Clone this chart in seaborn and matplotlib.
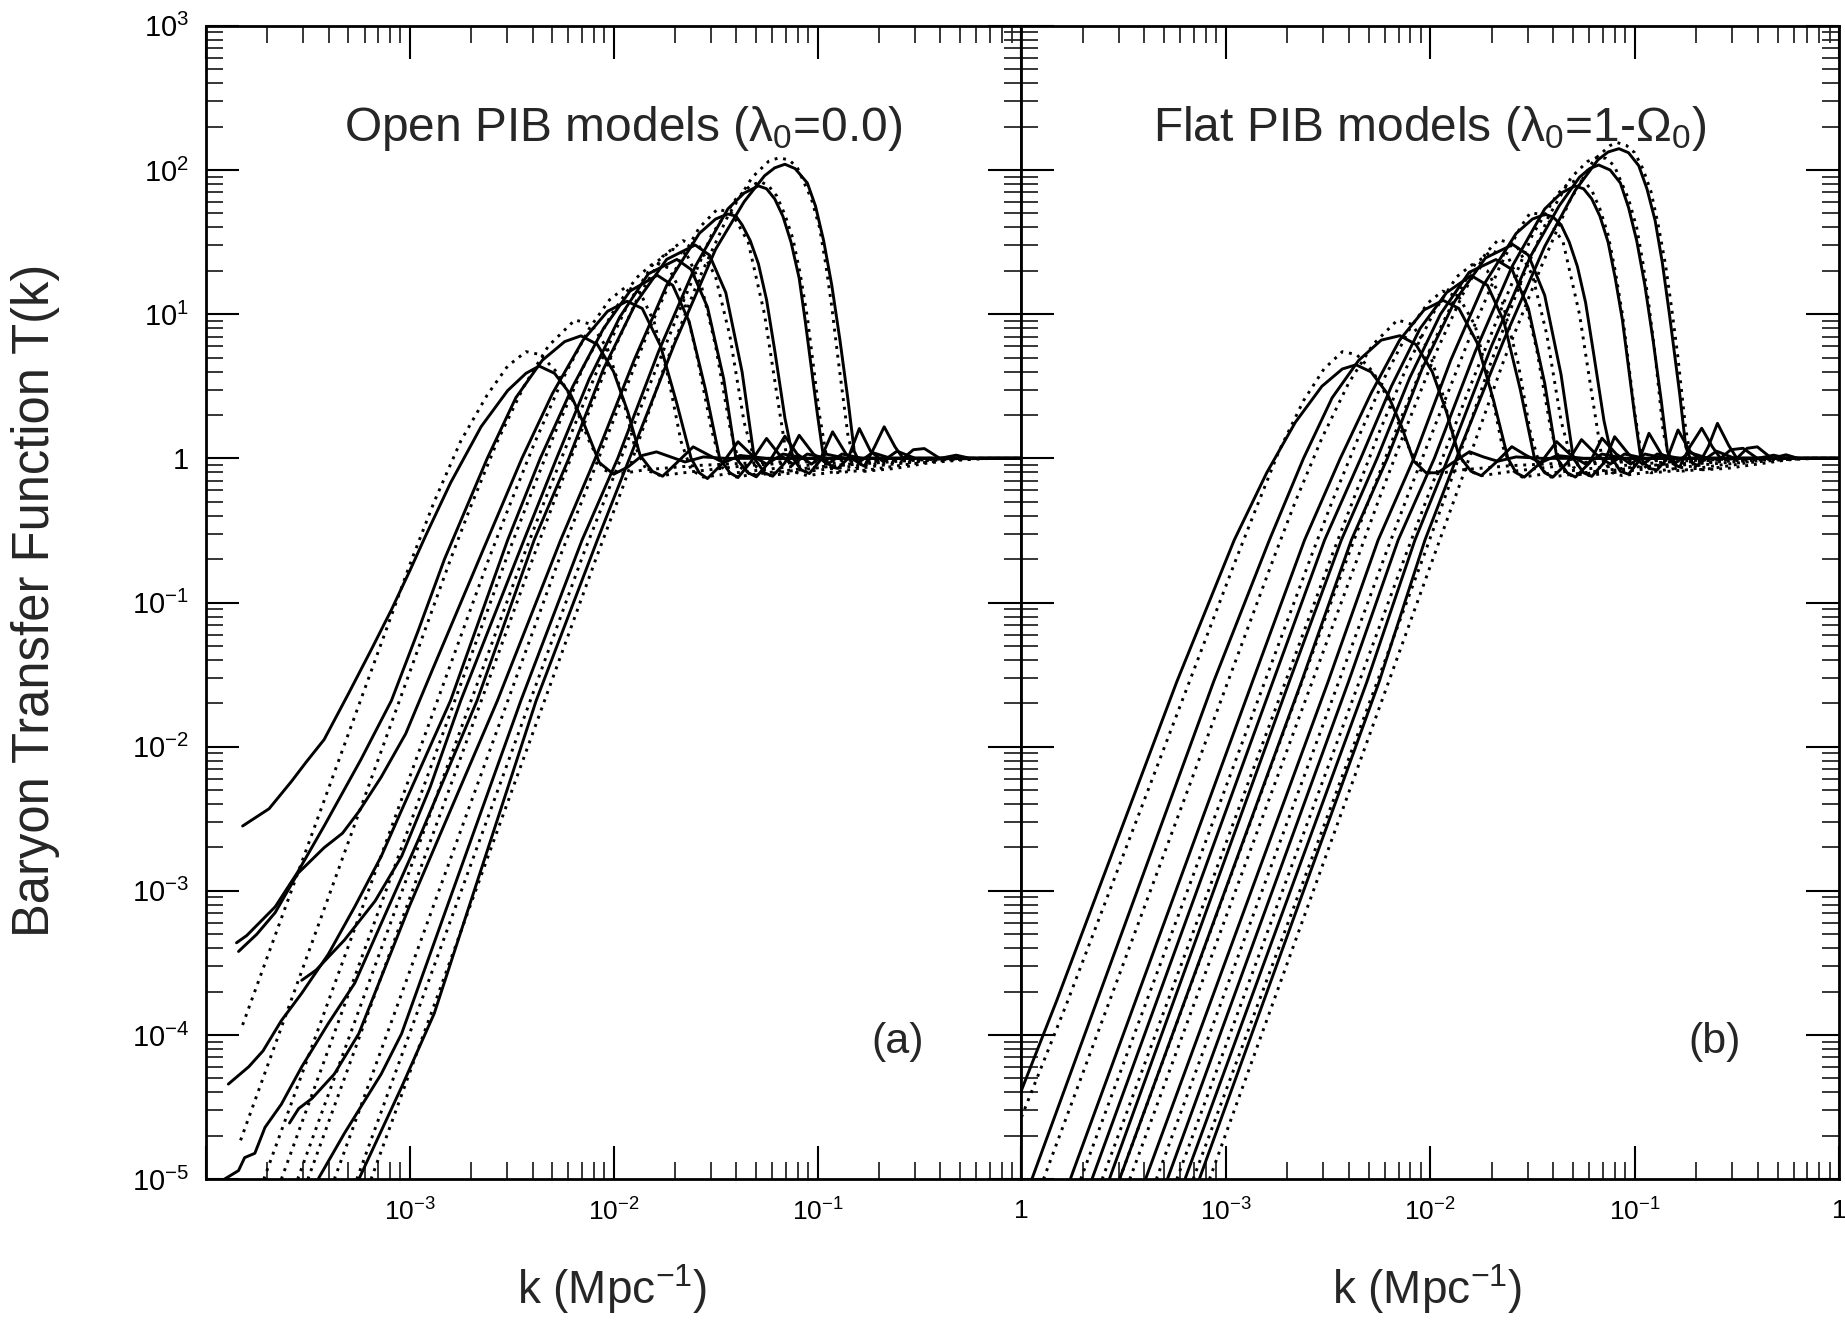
"""
Baryon transfer function T(k) for open and flat PIB models (two log-log panels).
Curves are stored as log10(k), log10(T) points read off the original figure.
"""

import numpy as np
import pandas as pd
import matplotlib
matplotlib.use("Agg")
import matplotlib.pyplot as plt
import seaborn as sns
from matplotlib.ticker import FuncFormatter, LogLocator, NullFormatter

# --- Open models (lambda_0 = 0): solid curves -------------------------------
OPEN_SOLID_LOGK = [
    [-3.82, -3.69, -3.58, -3.51, -3.42, -3.30, -3.19, -3.09, -3.00, -2.92, -2.80, -2.65, -2.52, -2.43,
     -2.365, -2.29, -2.21, -2.14, -2.07, -2.00, -1.93, -1.86, -1.79, -1.72, -1.65, -1.56, -1.45, 0.0],
    [-3.85, -3.80, -3.66, -3.55, -3.42, -3.24, -3.09, -2.96, -2.83, -2.62, -2.48, -2.35, -2.24, -2.16,
     -2.08, -2.00, -1.93, -1.87, -1.81, -1.76, -1.69, -1.61, -1.53, -1.46, -1.38, -1.25, 0.0],
    [-3.84, -3.75, -3.66, -3.55, -3.42, -3.33, -3.25, -3.14, -3.02, -2.89, -2.62, -2.45, -2.30, -2.15,
     -2.03, -1.935, -1.86, -1.77, -1.69, -1.62, -1.58, -1.54, -1.47, -1.39, -1.32, -1.25, -1.17, -1.05, 0.0],
    [-3.89, -3.79, -3.72, -3.63, -3.53, -3.40, -3.27, -3.14, -3.04, -2.80, -2.52, -2.36, -2.20, -2.05,
     -1.92, -1.786, -1.71, -1.63, -1.55, -1.48, -1.43, -1.39, -1.33, -1.25, -1.19, -1.12, -1.05, -0.95, 0.0],
    [-3.53, -3.46, -3.32, -3.17, -3.04, -2.90, -2.75, -2.44, -2.28, -2.12, -1.97, -1.83, -1.69, -1.62,
     -1.54, -1.46, -1.40, -1.34, -1.30, -1.24, -1.16, -1.10, -1.03, -0.96, -0.86, 0.0],
    [-3.91, -3.84, -3.81, -3.76, -3.71, -3.63, -3.53, -3.40, -3.27, -2.95, -2.67, -2.39, -2.22, -2.05,
     -1.89, -1.74, -1.60, -1.53, -1.45, -1.37, -1.31, -1.26, -1.22, -1.16, -1.09, -1.02, -0.95, -0.88,
     -0.78, 0.0],
    [-3.59, -3.545, -3.48, -3.37, -3.25, -3.00, -2.57, -2.26, -2.09, -1.90, -1.74, -1.58, -1.50, -1.44,
     -1.40, -1.37, -1.33, -1.29, -1.25, -1.21, -1.16, -1.12, -1.08, -1.04, -0.99, -0.926, -0.86, -0.80,
     -0.73, -0.64, 0.0],
    [-3.45, -3.32, -3.14, -3.04, -2.455, -2.155, -1.98, -1.78, -1.60, -1.44, -1.36, -1.29, -1.25, -1.21,
     -1.17, -1.13, -1.09, -1.06, -1.00, -0.97, -0.93, -0.90, -0.85, -0.795, -0.74, -0.68, -0.61, -0.52, 0.0],
    [-3.25, -3.04, -2.88, -2.38, -2.08, -1.90, -1.70, -1.50, -1.36, -1.26, -1.21, -1.16, -1.11, -1.05,
     -1.01, -0.97, -0.93, -0.89, -0.85, -0.82, -0.79, -0.77, -0.72, -0.673, -0.62, -0.58, -0.53, -0.476,
     -0.40, -0.32, -0.25, 0.0],
]
OPEN_SOLID_LOGT = [
    [-2.55, -2.43, -2.24, -2.11, -1.95, -1.63, -1.33, -1.05, -0.78, -0.53, -0.17, 0.22, 0.47, 0.59,
     0.64, 0.59, 0.44, 0.22, -0.03, -0.11, -0.06, 0.02, 0.045, 0.01, -0.025, 0.01, 0.0, 0.0],
    [-3.36, -3.31, -3.11, -2.87, -2.55, -2.09, -1.68, -1.20, -0.70, 0.0, 0.42, 0.68, 0.81, 0.85,
     0.79, 0.60, 0.32, 0.02, -0.09, -0.124, -0.03, 0.08, 0.02, -0.03, 0.02, 0.0, 0.0],
    [-3.42, -3.30, -3.15, -2.88, -2.70, -2.60, -2.45, -2.21, -1.91, -1.47, -0.567, 0.0, 0.45, 0.82,
     1.02, 1.09, 1.04, 0.78, 0.38, 0.0, -0.10, -0.14, -0.04, 0.115, 0.02, -0.04, 0.03, 0.0, 0.0],
    [-4.34, -4.22, -4.11, -3.90, -3.71, -3.44, -3.11, -2.76, -2.44, -1.68, -0.567, 0.0, 0.50, 0.90,
     1.16, 1.27, 1.20, 0.95, 0.48, 0.0, -0.10, -0.133, -0.03, 0.138, 0.03, -0.04, 0.03, 0.0, 0.0],
    [-3.62, -3.55, -3.34, -3.07, -2.76, -2.28, -1.68, -0.567, 0.0, 0.55, 0.98, 1.28, 1.38, 1.31,
     1.05, 0.55, 0.0, -0.10, -0.128, -0.03, 0.154, 0.03, -0.04, 0.03, 0.0, 0.0],
    [-5.0, -4.94, -4.85, -4.82, -4.64, -4.48, -4.22, -3.92, -3.64, -2.62, -1.68, -0.567, 0.0, 0.62,
     1.08, 1.38, 1.48, 1.41, 1.15, 0.60, 0.0, -0.10, -0.124, -0.03, 0.16, 0.03, -0.04, 0.03,
     0.0, 0.0],
    [-4.61, -4.51, -4.44, -4.27, -3.99, -3.10, -1.68, -0.567, 0.0, 0.68, 1.20, 1.56, 1.66, 1.695,
     1.68, 1.62, 1.51, 1.35, 1.10, 0.75, 0.28, 0.0, -0.08, -0.105, -0.02, 0.184, 0.03, -0.03,
     0.04, 0.0, 0.0],
    [-5.0, -4.68, -4.27, -3.99, -1.68, -0.567, 0.0, 0.74, 1.33, 1.73, 1.84, 1.89, 1.87, 1.80,
     1.68, 1.50, 1.25, 0.95, 0.30, 0.0, -0.06, -0.07, 0.0, 0.207, 0.05, -0.02, 0.05, 0.0, 0.0],
    [-5.0, -4.36, -3.85, -1.68, -0.567, 0.08, 0.80, 1.45, 1.78, 1.96, 2.015, 2.04, 2.01, 1.91,
     1.75, 1.51, 1.20, 0.82, 0.40, 0.05, -0.04, -0.054, 0.08, 0.219, 0.08, 0.0, 0.06, 0.068,
     0.0, 0.022, 0.0, 0.0],
]

# --- Open models: dotted curves ---------------------------------------------
OPEN_DOT_LOGK = [
    [-3.82, -2.99, -2.88, -2.75, -2.62, -2.52, -2.43, -2.36, -2.28, -2.20, -2.12, -2.05, -1.98, -1.85,
     -1.60, -1.30, -0.90, -0.50, 0.0],
    [-3.83, -2.80, -2.70, -2.57, -2.44, -2.32, -2.19, -2.11, -2.03, -1.96, -1.90, -1.84, -1.77, -1.60,
     -1.35, -1.00, -0.60, 0.0],
    [-3.716, -2.613, -2.52, -2.39, -2.25, -2.12, -2.02, -1.94, -1.87, -1.80, -1.73, -1.67, -1.62, -1.56,
     -1.40, -1.15, -0.80, -0.45, 0.0],
    [-3.63, -2.52, -2.42, -2.29, -2.15, -2.01, -1.89, -1.80, -1.73, -1.66, -1.59, -1.52, -1.47, -1.41,
     -1.25, -1.00, -0.70, -0.40, 0.0],
    [-3.55, -2.44, -2.34, -2.20, -2.06, -1.93, -1.81, -1.71, -1.64, -1.57, -1.50, -1.43, -1.38, -1.32,
     -1.15, -0.90, -0.60, -0.35, 0.0],
    [-3.50, -2.39, -2.29, -2.15, -2.01, -1.88, -1.76, -1.66, -1.58, -1.50, -1.43, -1.36, -1.30, -1.24,
     -1.05, -0.80, -0.55, -0.30, 0.0],
    [-3.37, -2.26, -2.14, -1.98, -1.83, -1.69, -1.58, -1.49, -1.42, -1.34, -1.26, -1.20, -1.15, -1.10,
     -1.05, -0.90, -0.70, -0.45, -0.25, 0.0],
    [-3.26, -2.15, -2.02, -1.84, -1.67, -1.52, -1.40, -1.33, -1.28, -1.24, -1.20, -1.16, -1.12, -1.085,
     -1.05, -0.99, -0.95, -0.91, -0.75, -0.55, -0.35, -0.20, 0.0],
    [-3.19, -2.08, -1.95, -1.76, -1.58, -1.44, -1.32, -1.24, -1.19, -1.14, -1.10, -1.03, -0.99, -0.96,
     -0.93, -0.90, -0.85, -0.81, -0.77, -0.62, -0.45, -0.28, -0.15, 0.0],
]
OPEN_DOT_LOGT = [
    [-3.93, -0.70, -0.30, 0.12, 0.44, 0.64, 0.74, 0.72, 0.60, 0.40, 0.12, -0.08, -0.11, -0.08,
     -0.05, -0.03, -0.01, 0.0, 0.0],
    [-4.73, -0.70, -0.33, 0.12, 0.50, 0.78, 0.96, 0.93, 0.76, 0.45, 0.10, -0.08, -0.12, -0.09,
     -0.05, -0.02, -0.005, 0.0],
    [-5.0, -0.70, -0.36, 0.10, 0.55, 0.90, 1.10, 1.19, 1.15, 0.94, 0.55, 0.12, -0.08, -0.13,
     -0.10, -0.06, -0.02, 0.0, 0.0],
    [-5.0, -0.67, -0.30, 0.17, 0.63, 1.00, 1.25, 1.36, 1.32, 1.13, 0.70, 0.20, -0.06, -0.13,
     -0.10, -0.06, -0.02, 0.0, 0.0],
    [-5.0, -0.67, -0.30, 0.20, 0.68, 1.07, 1.34, 1.45, 1.41, 1.20, 0.78, 0.22, -0.06, -0.12,
     -0.09, -0.05, -0.02, 0.0, 0.0],
    [-5.0, -0.67, -0.29, 0.22, 0.72, 1.12, 1.40, 1.51, 1.47, 1.26, 0.85, 0.25, -0.06, -0.12,
     -0.09, -0.05, -0.02, 0.0, 0.0],
    [-5.0, -0.67, -0.24, 0.34, 0.88, 1.33, 1.60, 1.73, 1.70, 1.50, 1.00, 0.45, 0.0, -0.10,
     -0.12, -0.09, -0.05, -0.015, 0.0, 0.0],
    [-5.0, -0.67, -0.20, 0.45, 1.05, 1.55, 1.80, 1.89, 1.92, 1.89, 1.82, 1.69, 1.52, 1.28,
     0.98, 0.30, -0.04, -0.10, -0.08, -0.04, -0.01, 0.0, 0.0],
    [-5.0, -0.67, -0.18, 0.60, 1.25, 1.68, 1.95, 2.06, 2.085, 2.07, 2.02, 1.80, 1.60, 1.35,
     1.05, 0.70, 0.15, -0.06, -0.09, -0.07, -0.03, -0.01, 0.0, 0.0],
]

# --- Flat models (lambda_0 = 1 - Omega_0): solid curves ---------------------
FLAT_SOLID_LOGK = [
    [-4.0, -3.827, -3.24, -2.959, -2.80, -2.66, -2.53, -2.43, -2.363, -2.29, -2.21, -2.14, -2.08,
     -2.02, -1.963, -1.89, -1.808, -1.74, -1.67, -1.58, -1.45, 0.0],
    [-3.949, -3.06, -2.787, -2.62, -2.48, -2.35, -2.24, -2.148, -2.07, -1.99, -1.92, -1.86, -1.80,
     -1.75, -1.68, -1.601, -1.53, -1.46, -1.38, -1.25, 0.0],
    [-3.761, -2.87, -2.615, -2.44, -2.29, -2.15, -2.03, -1.937, -1.86, -1.77, -1.69, -1.62, -1.58,
     -1.54, -1.46, -1.382, -1.31, -1.24, -1.16, -1.05, 0.0],
    [-3.655, -2.77, -2.517, -2.34, -2.19, -2.05, -1.92, -1.80, -1.72, -1.64, -1.56, -1.49, -1.44,
     -1.40, -1.33, -1.26, -1.19, -1.12, -1.05, -0.95, 0.0],
    [-3.57, -2.69, -2.435, -2.26, -2.10, -1.95, -1.81, -1.679, -1.60, -1.52, -1.44, -1.38, -1.33,
     -1.29, -1.22, -1.16, -1.09, -1.02, -0.95, -0.85, 0.0],
    [-3.52, -2.63, -2.386, -2.21, -2.04, -1.88, -1.73, -1.596, -1.52, -1.44, -1.36, -1.30, -1.25,
     -1.21, -1.15, -1.098, -1.03, -0.96, -0.89, -0.78, 0.0],
    [-3.393, -2.50, -2.255, -2.08, -1.90, -1.74, -1.58, -1.50, -1.439, -1.40, -1.36, -1.32, -1.28,
     -1.24, -1.20, -1.15, -1.11, -1.07, -1.03, -0.98, -0.93, -0.87, -0.80, -0.73, -0.64, 0.0],
    [-3.286, -2.40, -2.157, -1.98, -1.78, -1.60, -1.44, -1.36, -1.292, -1.25, -1.21, -1.17, -1.13,
     -1.095, -1.06, -1.00, -0.97, -0.93, -0.89, -0.84, -0.788, -0.73, -0.67, -0.60, -0.51, 0.0],
    [-3.20, -2.31, -2.075, -1.89, -1.70, -1.51, -1.37, -1.27, -1.22, -1.176, -1.12, -1.07, -1.03,
     -0.99, -0.95, -0.91, -0.87, -0.84, -0.81, -0.78, -0.73, -0.672, -0.62, -0.58, -0.53, -0.47,
     -0.40, -0.32, -0.25, 0.0],
    [-3.13, -2.25, -2.026, -1.85, -1.64, -1.44, -1.29, -1.18, -1.13, -1.077, -1.03, -0.98, -0.94,
     -0.90, -0.865, -0.83, -0.78, -0.75, -0.72, -0.69, -0.64, -0.595, -0.54, -0.50, -0.45, -0.40,
     -0.33, -0.26, -0.20, 0.0],
]
FLAT_SOLID_LOGT = [
    [-4.384, -3.76, -1.55, -0.567, -0.10, 0.25, 0.50, 0.62, 0.649, 0.60, 0.45, 0.22, -0.02,
     -0.10, -0.10, -0.03, 0.046, 0.01, -0.02, 0.01, 0.0, 0.0],
    [-5.0, -1.55, -0.567, 0.0, 0.42, 0.68, 0.82, 0.851, 0.79, 0.60, 0.32, 0.02, -0.09,
     -0.12, -0.03, 0.081, 0.02, -0.03, 0.02, 0.0, 0.0],
    [-5.0, -1.55, -0.567, 0.0, 0.45, 0.82, 1.03, 1.096, 1.04, 0.80, 0.40, 0.0, -0.10,
     -0.13, -0.03, 0.116, 0.02, -0.04, 0.03, 0.0, 0.0],
    [-5.0, -1.55, -0.567, 0.0, 0.50, 0.90, 1.15, 1.268, 1.20, 0.95, 0.48, 0.0, -0.10,
     -0.13, -0.03, 0.13, 0.03, -0.04, 0.03, 0.0, 0.0],
    [-5.0, -1.55, -0.567, 0.0, 0.56, 1.00, 1.29, 1.379, 1.31, 1.04, 0.52, 0.0, -0.10,
     -0.13, -0.03, 0.14, 0.03, -0.04, 0.03, 0.0, 0.0],
    [-5.0, -1.55, -0.567, 0.0, 0.62, 1.09, 1.39, 1.483, 1.41, 1.13, 0.58, 0.0, -0.10,
     -0.125, -0.03, 0.15, 0.03, -0.04, 0.03, 0.0, 0.0],
    [-5.0, -1.55, -0.567, 0.0, 0.68, 1.20, 1.56, 1.66, 1.692, 1.675, 1.62, 1.50, 1.33,
     1.08, 0.72, 0.26, 0.0, -0.09, -0.11, -0.02, 0.174, 0.03, -0.03, 0.04, 0.0, 0.0],
    [-5.0, -1.55, -0.567, 0.0, 0.74, 1.33, 1.73, 1.84, 1.889, 1.87, 1.80, 1.68, 1.50,
     1.25, 0.96, 0.30, 0.0, -0.07, -0.08, 0.0, 0.197, 0.05, -0.02, 0.05, 0.0, 0.0],
    [-5.0, -1.55, -0.567, 0.08, 0.78, 1.40, 1.75, 1.95, 2.01, 2.035, 2.00, 1.91, 1.74,
     1.51, 1.20, 0.82, 0.40, 0.05, -0.04, -0.06, 0.08, 0.209, 0.08, 0.0, 0.06, 0.07,
     0.0, 0.022, 0.0, 0.0],
    [-5.0, -1.55, -0.567, 0.08, 0.82, 1.47, 1.86, 2.07, 2.125, 2.148, 2.12, 2.03, 1.87,
     1.65, 1.36, 1.00, 0.45, 0.08, -0.03, -0.05, 0.08, 0.243, 0.09, 0.0, 0.07, 0.08,
     0.0, 0.025, 0.0, 0.0],
]

# --- Flat models: dotted curves ---------------------------------------------
FLAT_DOT_LOGK = [
    [-4.0, -3.778, -2.95, -2.85, -2.74, -2.62, -2.52, -2.43, -2.36, -2.28, -2.20, -2.12, -2.05, -1.98,
     -1.85, -1.60, -1.30, -0.90, -0.50, 0.0],
    [-3.892, -2.76, -2.66, -2.53, -2.40, -2.28, -2.16, -2.09, -2.01, -1.94, -1.88, -1.82, -1.75, -1.60,
     -1.35, -1.00, -0.60, 0.0],
    [-3.71, -2.58, -2.48, -2.35, -2.22, -2.10, -2.01, -1.94, -1.86, -1.78, -1.71, -1.65, -1.60, -1.55,
     -1.40, -1.15, -0.80, -0.45, 0.0],
    [-3.605, -2.48, -2.38, -2.25, -2.11, -1.98, -1.87, -1.795, -1.72, -1.65, -1.57, -1.51, -1.46, -1.41,
     -1.25, -1.00, -0.70, -0.40, 0.0],
    [-3.52, -2.40, -2.30, -2.16, -2.02, -1.89, -1.78, -1.70, -1.62, -1.55, -1.48, -1.41, -1.36, -1.31,
     -1.15, -0.90, -0.60, -0.35, 0.0],
    [-3.47, -2.35, -2.25, -2.11, -1.97, -1.84, -1.73, -1.666, -1.58, -1.50, -1.43, -1.36, -1.30, -1.24,
     -1.05, -0.80, -0.55, -0.30, 0.0],
    [-3.34, -2.22, -2.10, -1.94, -1.79, -1.66, -1.56, -1.511, -1.44, -1.35, -1.27, -1.21, -1.16, -1.11,
     -1.06, -0.90, -0.70, -0.45, -0.25, 0.0],
    [-3.24, -2.12, -1.99, -1.81, -1.64, -1.50, -1.38, -1.33, -1.279, -1.24, -1.21, -1.17, -1.13, -1.095,
     -1.06, -1.00, -0.96, -0.92, -0.75, -0.55, -0.35, -0.20, 0.0],
    [-3.16, -2.03, -1.90, -1.72, -1.55, -1.42, -1.31, -1.23, -1.18, -1.14, -1.10, -1.03, -0.99, -0.96,
     -0.93, -0.90, -0.86, -0.82, -0.78, -0.62, -0.45, -0.28, -0.15, 0.0],
    [-3.08, -1.98, -1.84, -1.64, -1.46, -1.32, -1.20, -1.12, -1.085, -1.04, -1.00, -0.96, -0.92, -0.885,
     -0.85, -0.82, -0.79, -0.75, -0.72, -0.68, -0.55, -0.40, -0.25, -0.12, 0.0],
]
FLAT_DOT_LOGT = [
    [-4.57, -3.78, -0.70, -0.34, 0.05, 0.40, 0.62, 0.74, 0.72, 0.60, 0.40, 0.12, -0.08, -0.11,
     -0.08, -0.05, -0.03, -0.01, 0.0, 0.0],
    [-5.0, -0.67, -0.30, 0.14, 0.52, 0.79, 0.96, 0.93, 0.76, 0.45, 0.10, -0.08, -0.12, -0.09,
     -0.05, -0.02, -0.005, 0.0],
    [-5.0, -0.67, -0.30, 0.15, 0.57, 0.90, 1.08, 1.16, 1.12, 0.92, 0.52, 0.10, -0.08, -0.13,
     -0.10, -0.06, -0.02, 0.0, 0.0],
    [-5.0, -0.67, -0.30, 0.18, 0.65, 1.02, 1.26, 1.344, 1.30, 1.10, 0.66, 0.18, -0.07, -0.13,
     -0.10, -0.06, -0.02, 0.0, 0.0],
    [-5.0, -0.67, -0.29, 0.22, 0.70, 1.08, 1.35, 1.44, 1.40, 1.18, 0.76, 0.20, -0.06, -0.12,
     -0.09, -0.05, -0.02, 0.0, 0.0],
    [-5.0, -0.67, -0.28, 0.24, 0.74, 1.14, 1.42, 1.518, 1.48, 1.27, 0.86, 0.26, -0.06, -0.12,
     -0.09, -0.05, -0.02, 0.0, 0.0],
    [-5.0, -0.67, -0.22, 0.36, 0.90, 1.33, 1.60, 1.703, 1.69, 1.50, 1.00, 0.45, 0.0, -0.10,
     -0.12, -0.09, -0.05, -0.015, 0.0, 0.0],
    [-5.0, -0.67, -0.18, 0.48, 1.08, 1.55, 1.83, 1.90, 1.935, 1.91, 1.86, 1.73, 1.55, 1.30,
     1.00, 0.32, -0.04, -0.10, -0.08, -0.04, -0.01, 0.0, 0.0],
    [-5.0, -0.67, -0.16, 0.60, 1.25, 1.68, 1.95, 2.06, 2.09, 2.08, 2.03, 1.80, 1.60, 1.36,
     1.06, 0.72, 0.18, -0.05, -0.09, -0.07, -0.03, -0.01, 0.0, 0.0],
    [-5.0, -0.67, -0.12, 0.68, 1.32, 1.78, 2.07, 2.17, 2.19, 2.17, 2.12, 2.01, 1.85, 1.62,
     1.35, 1.05, 0.72, 0.20, -0.04, -0.08, -0.07, -0.04, -0.01, 0.0, 0.0],
]

PANEL_TITLES = ["Open PIB models (\u03bb$_0$=0.0)", "Flat PIB models (\u03bb$_0$=1-\u03a9$_0$)"]
PANEL_TAGS = ["(a)", "(b)"]
Y_LABEL = "Baryon Transfer Function T(k)"
X_LABEL = "k (Mpc$^{-1}$)"


def _curves_frame(logk_sets, logt_sets, kind):
    """Long-form table: one row per point, one unit per curve."""
    rows = []
    for i, (lk, lt) in enumerate(zip(logk_sets, logt_sets)):
        for a, b in zip(lk, lt):
            rows.append({"curve": f"{kind}{i}", "kind": kind, "k": 10.0 ** a, "T": 10.0 ** b})
    return pd.DataFrame(rows)


def _power_label(v, pos, blank_below=None):
    e = int(round(np.log10(v)))
    if blank_below is not None and e <= blank_below:
        return ""
    if e == 0:
        return "1"
    return r"$10^{%d}$" % e


def _style_axis(ax, show_ylabels):
    ax.set_xscale("log")
    ax.set_yscale("log")
    ax.set_xlim(1e-4, 1.0)
    ax.set_ylim(1e-5, 1e3)
    for a in (ax.xaxis, ax.yaxis):
        a.set_major_locator(LogLocator(base=10, numticks=20))
        a.set_minor_locator(LogLocator(base=10, subs=np.arange(2, 10), numticks=20))
        a.set_minor_formatter(NullFormatter())
    ax.xaxis.set_major_formatter(FuncFormatter(lambda v, p: _power_label(v, p, blank_below=-4)))
    if show_ylabels:
        ax.yaxis.set_major_formatter(FuncFormatter(_power_label))
    else:
        ax.yaxis.set_major_formatter(NullFormatter())
    ax.tick_params(which="major", direction="in", length=24, width=1.5,
                   top=True, right=True, colors="black")
    ax.tick_params(which="minor", direction="in", length=12, width=1.3, top=True, right=True)
    ax.tick_params(axis="x", which="major", pad=14, labelsize=19)
    ax.tick_params(axis="y", which="major", pad=12, labelsize=21)
    for sp in ax.spines.values():
        sp.set_linewidth(2.0)
        sp.set_color("black")
    ax.set_xlabel("")
    ax.set_ylabel("")


sns.set_theme(style="ticks")
plt.rcParams["font.family"] = ["Liberation Sans", "DejaVu Sans"]
plt.rcParams["mathtext.fontset"] = "custom"
plt.rcParams["mathtext.rm"] = "Liberation Sans"
plt.rcParams["mathtext.it"] = "Liberation Sans:italic"
plt.rcParams["mathtext.bf"] = "Liberation Sans:bold"

fig = plt.figure(figsize=(18.45, 13.25), dpi=100)
ax_open = fig.add_axes([0.1116, 0.110, 0.4420, 0.8705])
ax_flat = fig.add_axes([0.5536, 0.110, 0.4432, 0.8705])

panels = [
    (ax_open, OPEN_SOLID_LOGK, OPEN_SOLID_LOGT, OPEN_DOT_LOGK, OPEN_DOT_LOGT),
    (ax_flat, FLAT_SOLID_LOGK, FLAT_SOLID_LOGT, FLAT_DOT_LOGK, FLAT_DOT_LOGT),
]
title_x = [0.512, 0.499]

for idx, (ax, sk, st, dk, dt) in enumerate(panels):
    ax.set_xscale("log")
    ax.set_yscale("log")
    df = pd.concat([_curves_frame(sk, st, "solid"), _curves_frame(dk, dt, "dotted")],
                   ignore_index=True)
    sns.lineplot(data=df, x="k", y="T", units="curve", estimator=None, style="kind",
                 dashes={"solid": "", "dotted": (1.0, 2.0)}, color="black",
                 linewidth=2.1, legend=False, ax=ax)
    _style_axis(ax, show_ylabels=(idx == 0))
    ax.text(title_x[idx], 0.900, PANEL_TITLES[idx], transform=ax.transAxes,
            ha="center", va="baseline", fontsize=34.5)
    ax.text(0.848, 0.119, PANEL_TAGS[idx], transform=ax.transAxes,
            ha="center", va="center", fontsize=31)

fig.text(0.019, 0.547, Y_LABEL, rotation=90, ha="center", va="center", fontsize=36.5)
fig.text(0.3316, 0.027, X_LABEL, ha="center", va="center", fontsize=33)
fig.text(0.7736, 0.027, X_LABEL, ha="center", va="center", fontsize=33)

fig.savefig("out.png", dpi=100, facecolor="white")
